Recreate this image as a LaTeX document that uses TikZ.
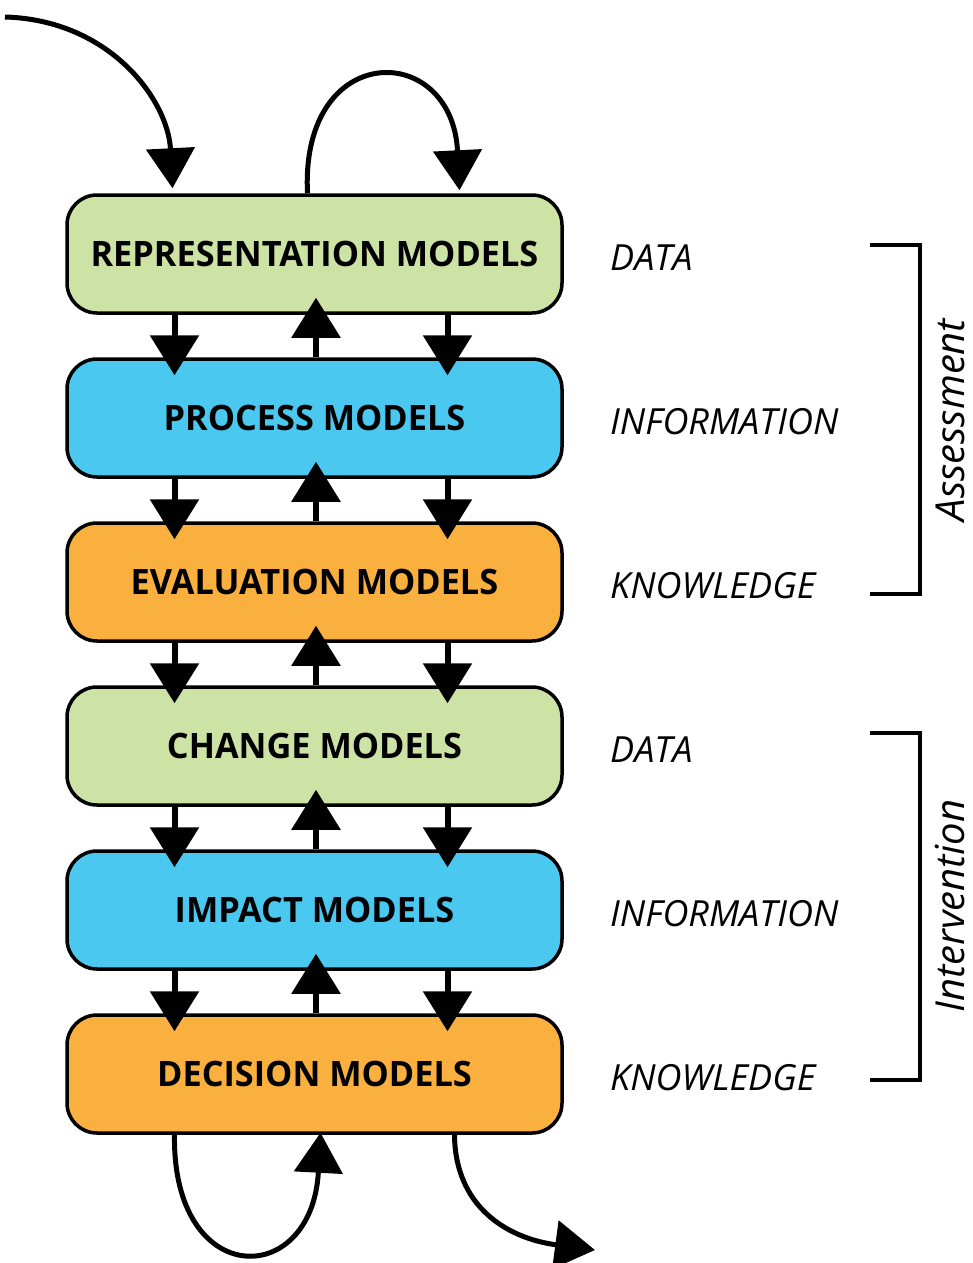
\documentclass[tikz,border=0pt]{standalone}
\usepackage{fontspec}
\setmainfont{Open Sans}
\newfontfamily\boxfont[FakeStretch=0.98]{Open Sans}
\usetikzlibrary{arrows.meta}

\definecolor{modelgreen}{RGB}{205,227,165}
\definecolor{modelblue}{RGB}{74,200,240}
\definecolor{modelorange}{RGB}{249,176,63}

\tikzset{
  modelbox/.style={draw=black, line width=3.5pt, rounded corners=30pt,
    minimum width=495pt, minimum height=118pt, inner sep=0pt,
    font=\boxfont\bfseries\fontsize{35}{38}\selectfont},
  flow/.style={line width=6pt, -{Triangle[width=48pt,length=40pt]}},
  curveflow/.style={line width=5pt, -{Triangle[width=48pt,length=40pt]}},
  level/.style={anchor=west, inner sep=0pt, font=\itshape\fontsize{36}{40}\selectfont},
  phase/.style={rotate=90, anchor=base, inner sep=0pt, text depth=0pt,
    font=\itshape\fontsize{40}{44}\selectfont},
  bracket/.style={line width=4pt, miter limit=10}
}

\begin{document}
\begin{tikzpicture}[x=1pt, y=-1pt]
\useasboundingbox (0,0) rectangle (972,1263);

% model stack
\node[modelbox, fill=modelgreen]  (b1) at (314.5,254)  {REPRESENTATION MODELS};
\node[modelbox, fill=modelblue]   (b2) at (314.5,418)  {PROCESS MODELS};
\node[modelbox, fill=modelorange] (b3) at (314.5,582)  {EVALUATION MODELS};
\node[modelbox, fill=modelgreen]  (b4) at (314.5,746)  {CHANGE MODELS};
\node[modelbox, fill=modelblue]   (b5) at (314.5,910)  {IMPACT MODELS};
\node[modelbox, fill=modelorange] (b6) at (314.5,1074) {DECISION MODELS};

% links between neighbouring models
\foreach \a/\b in {b1/b2, b2/b3, b3/b4, b4/b5, b5/b6}{
  \draw[flow] ([xshift=-140pt]\a.south) -- ([xshift=-140pt,yshift=-18pt]\b.north);
  \draw[flow] ([xshift=133pt]\a.south) -- ([xshift=133pt,yshift=-18pt]\b.north);
  \draw[flow] ([xshift=1.5pt]\b.north) -- ([xshift=1.5pt,yshift=17pt]\a.south);
}

% input and feedback loop at the top
\coordinate (input) at (5,17);
\draw[curveflow] (input) .. controls (110,20) and (168,100) .. ([xshift=-142pt,yshift=5pt]b1.north);
\draw[curveflow] ([xshift=-7pt]b1.north) .. controls (300,40) and (452,40) .. ([xshift=145pt,yshift=3pt]b1.north);

% feedback loop and output at the bottom
\draw[curveflow] ([xshift=-140pt]b6.south) .. controls (172,1290) and (312,1290) .. ([xshift=6pt,yshift=2pt]b6.south);
\coordinate (output) at (595,1250);
\draw[curveflow] ([xshift=140pt]b6.south) .. controls (455,1205) and (505,1238) .. (output);

% levels
\node[level] (l1) at (610,258)  {DATA};
\node[level] (l2) at (610,422)  {INFORMATION};
\node[level] (l3) at (610,586)  {KNOWLEDGE};
\node[level] (l4) at (610,750)  {DATA};
\node[level] (l5) at (610,914)  {INFORMATION};
\node[level] (l6) at (610,1078) {KNOWLEDGE};

% phases
\draw[bracket] (870,245) -| (920,594) -- (870,594);
\node[phase] (assess) at (964,420) {Assessment};
\draw[bracket] (870,733) -| (920,1080) -- (870,1080);
\node[phase] (interv) at (964,906) {Intervention};
\end{tikzpicture}
\end{document}
